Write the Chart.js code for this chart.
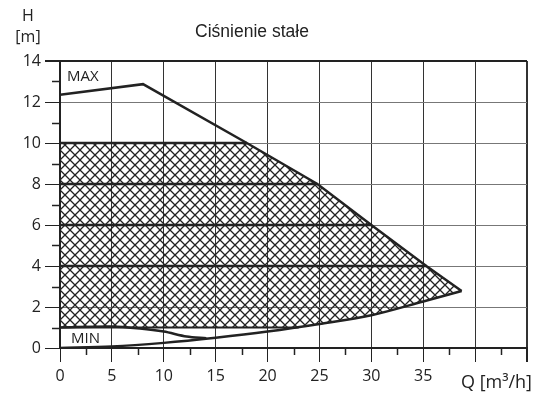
<!DOCTYPE html>
<html>
<head>
<meta charset="utf-8">
<script src="https://cdn.jsdelivr.net/npm/chart.js@4"></script>
<style>
  html, body { margin: 0; padding: 0; background: #fff; }
  #wrap { width: 536px; height: 394px; }
</style>
</head>
<body>
<div id="wrap"><canvas id="chart" width="536" height="394"></canvas></div>
<script>
// values (Q in m3/h, H in m)
const maxCurve = [[0, 12.35], [8, 12.87], [18, 10], [24.8, 8], [30, 6], [35.3, 4], [38.7, 2.78]];
const lowCurve = [[0, 0], [5, 0.07], [10, 0.25], [15, 0.5], [20, 0.8], [25, 1.17], [30, 1.6], [35, 2.27], [38.7, 2.78]];
const minCurve = [[0, 1], [5, 1.05], [7.7, 0.95], [10, 0.8], [12.2, 0.56], [14.1, 0.47]];
const levels = [[10, 18], [8, 24.8], [6, 30], [4, 35.3], [1, 23]]; // [H, Q where it ends]
const areaOutline = [[0, 10], [18, 10], [24.8, 8], [30, 6], [35.3, 4], [38.7, 2.78],
  [35, 2.27], [30, 1.6], [25, 1.17], [23, 1], [0, 1], [0, 10]];
const xTickLabels = [0, 5, 10, 15, 20, 25, 30, 35];

const pts = arr => arr.map(p => ({ x: p[0], y: p[1] }));

function makeHatch() {
  const n = 10;
  const c = document.createElement("canvas");
  c.width = n; c.height = n;
  const g = c.getContext("2d");
  g.strokeStyle = "#222";
  g.lineWidth = 1.3;
  for (const o of [-n, 0, n]) {
    g.beginPath();
    g.moveTo(o, 0); g.lineTo(o + n, n);
    g.moveTo(o + n, 0); g.lineTo(o, n);
    g.stroke();
  }
  return g.createPattern(c, "repeat");
}

const ink = "#222";
const tickFont = { family: "Open Sans", size: 16 };

const extras = {
  id: "extras",
  afterDraw(chart) {
    const { ctx, scales: { x, y } } = chart;
    ctx.save();
    ctx.strokeStyle = ink;
    ctx.lineWidth = 1.5;
    // minor ticks
    for (let v = 1; v < 14; v += 2) {
      const py = Math.round(y.getPixelForValue(v)) + 0.5;
      ctx.beginPath(); ctx.moveTo(x.left - 8, py); ctx.lineTo(x.left, py); ctx.stroke();
    }
    for (let v = 2.5; v < 45; v += 5) {
      const px = Math.round(x.getPixelForValue(v)) + 0.5;
      ctx.beginPath(); ctx.moveTo(px, y.bottom); ctx.lineTo(px, y.bottom + 7); ctx.stroke();
    }
    ctx.fillStyle = ink;
    ctx.textBaseline = "alphabetic";
    ctx.font = "17.5px 'Liberation Sans', Arial, sans-serif";
    ctx.textAlign = "center";
    ctx.fillText("Ciśnienie stałe", 252, 37);
    ctx.font = "16px 'Open Sans'";
    ctx.fillText("H", 28, 21);
    ctx.fillText("[m]", 28, 42);
    ctx.textAlign = "right";
    ctx.font = "18px 'Open Sans'";
    ctx.fillText("Q [m³/h]", 532, 388);
    ctx.textAlign = "left";
    ctx.font = "15px 'Open Sans'";
    ctx.fillText("MAX", 67, 81);
    ctx.fillText("MIN", 71, 343);
    ctx.restore();
  }
};

const lineSet = (data, extra) => Object.assign({
  data: pts(data), borderColor: ink, borderWidth: 2.5, pointRadius: 0,
  showLine: true, fill: false, tension: 0
}, extra || {});

const datasets = [
  { data: pts(areaOutline), showLine: true, borderWidth: 0, borderColor: "rgba(0,0,0,0)",
    pointRadius: 0, fill: "shape", backgroundColor: makeHatch() },
  ...levels.map(l => lineSet([[0, l[0]], [l[1], l[0]]], { borderWidth: l[0] === 1 ? 2 : 2.5 })),
  lineSet(maxCurve),
  lineSet(lowCurve, { tension: 0.4, cubicInterpolationMode: "monotone" }),
  lineSet(minCurve, { tension: 0.3 })
];

new Chart(document.getElementById("chart"), {
  type: "scatter",
  data: { datasets },
  options: {
    responsive: false,
    animation: false,
    devicePixelRatio: 1,
    layout: { padding: { top: 61, right: 9, left: 0, bottom: 0 } },
    plugins: { legend: { display: false }, title: { display: false }, tooltip: { enabled: false } },
    scales: {
      x: {
        type: "linear", min: 0, max: 45,
        afterFit: s => { s.height = 46; },
        afterBuildTicks: s => { s.ticks = [0, 5, 10, 15, 20, 25, 30, 35, 40, 45].map(v => ({ value: v })); },
        ticks: {
          padding: 5, font: tickFont, color: ink, maxRotation: 0, autoSkip: false,
          callback: v => xTickLabels.includes(v) ? String(v) : ""
        },
        grid: {
          color: "#333", tickColor: ink, tickLength: 14,
          lineWidth: ctx => (ctx.tick && ctx.tick.value === 45 ? 2 : 1)
        },
        border: { color: ink, width: 2 }
      },
      y: {
        type: "linear", min: 0, max: 14,
        afterFit: s => { s.width = 60; },
        ticks: { stepSize: 2, padding: 4, font: tickFont, color: ink },
        grid: {
          color: ctx => (ctx.tick && ctx.tick.value === 14 ? ink : "#777"),
          tickColor: ink, tickLength: 15,
          lineWidth: ctx => (ctx.tick && ctx.tick.value === 14 ? 2 : 1)
        },
        border: { color: ink, width: 2 }
      }
    }
  },
  plugins: [extras]
});
</script>
</body>
</html>
